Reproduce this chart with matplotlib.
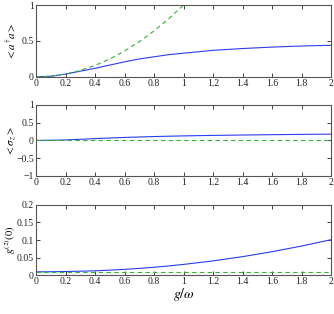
import matplotlib
matplotlib.use("Agg")
import matplotlib.pyplot as plt
from matplotlib.ticker import FuncFormatter

g = [0.0, 0.1, 0.2, 0.3, 0.4, 0.5, 0.6, 0.7, 0.8, 0.9, 1.0, 1.2, 1.4, 1.6, 1.8, 2.0]

# photon number
n_blue = [0.0, 0.01, 0.04, 0.08, 0.12, 0.165, 0.21, 0.25, 0.28, 0.31, 0.33, 0.37, 0.395, 0.415, 0.43, 0.44]
g_green = [0.0, 0.1, 0.2, 0.3, 0.4, 0.5, 0.6, 0.7, 0.8, 0.9, 1.0]
n_green = [0.0, 0.01, 0.04, 0.09, 0.16, 0.25, 0.36, 0.49, 0.64, 0.81, 1.0]

# sigma_z
sz_blue = [0.0, 0.003, 0.012, 0.03, 0.05, 0.066, 0.082, 0.095, 0.107, 0.117, 0.126, 0.14, 0.15, 0.16, 0.168, 0.175]
sz_green = [0.0] * len(g)

# g2(0)
g2_blue = [0.010, 0.0103, 0.011, 0.0118, 0.013, 0.0148, 0.017, 0.0198, 0.023, 0.0268, 0.031, 0.041, 0.053, 0.067, 0.083, 0.101]
g2_green = [0.01] * len(g)

blue = "#2a3cf0"
green = "#33b233"
plt.rcParams["font.family"] = "Liberation Serif"
plt.rcParams["mathtext.fontset"] = "stix"

fig = plt.figure(figsize=(3.34, 3.14), dpi=100)
L, W = 0.108, 0.883
ax1 = fig.add_axes([L, 0.755, W, 0.229])
ax2 = fig.add_axes([L, 0.44, W, 0.226])
ax3 = fig.add_axes([L, 0.123, W, 0.225])

ax1.plot(g, n_blue, color=blue, lw=0.8)
ax1.plot(g_green, n_green, color=green, lw=0.8, ls=(0, (4, 3)))
ax1.set_ylim(0, 1)
ax1.set_yticks([0, 0.5, 1])
ax1.set_ylabel(r"$<a^{\dagger}a>$", fontsize=8)

ax2.plot(g, sz_blue, color=blue, lw=0.8)
ax2.plot(g, sz_green, color=green, lw=0.8, ls=(0, (4, 3)))
ax2.set_ylim(-1, 1)
ax2.set_yticks([-1, -0.5, 0, 0.5, 1])
ax2.set_ylabel(r"$<\sigma_z>$", fontsize=8)

ax3.plot(g, g2_blue, color=blue, lw=0.8)
ax3.plot(g, g2_green, color=green, lw=0.8, ls=(0, (4, 3)))
ax3.set_ylim(0, 0.2)
ax3.set_yticks([0, 0.05, 0.1, 0.15, 0.2])
ax3.set_ylabel(r"$g^{(2)}(0)$", fontsize=7.5)
ax3.set_xlabel(r"$g/\omega$", fontsize=10, labelpad=0)

fmt = FuncFormatter(lambda v, p: ("%g" % v).replace("-", "\u2212"))
for ax in (ax1, ax2, ax3):
    ax.set_xlim(0, 2)
    ax.set_xticks([0, 0.2, 0.4, 0.6, 0.8, 1, 1.2, 1.4, 1.6, 1.8, 2])
    ax.xaxis.set_major_formatter(fmt)
    ax.yaxis.set_major_formatter(fmt)
    ax.yaxis.set_label_coords(-0.062, 0.5)
    ax.tick_params(direction="in", top=True, right=True, length=3, width=0.6,
                   labelsize=7, pad=1.5, colors="#222222")
    for s in ax.spines.values():
        s.set_linewidth(0.8)
        s.set_color("#555555")

fig.savefig("out.png", dpi=100)
